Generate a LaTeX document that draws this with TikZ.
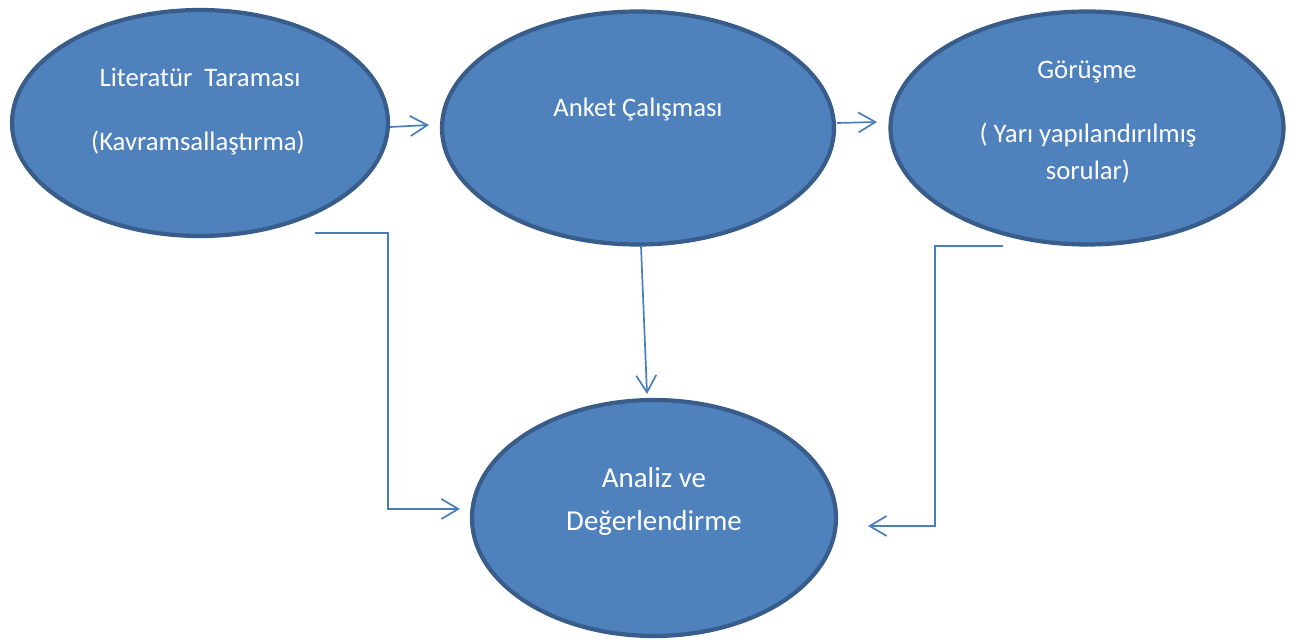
\documentclass[tikz,border=0pt]{standalone}
\usepackage{fontspec}
\setmainfont{Carlito}
\usetikzlibrary{shapes.geometric,arrows.meta}
\definecolor{blobfill}{HTML}{4F81BD}
\definecolor{blobedge}{HTML}{385D8A}
\definecolor{linkblue}{HTML}{4A7EBB}
\tikzset{
  blob/.style={ellipse, draw=blobedge, fill=blobfill, line width=4.2pt, inner sep=0pt},
  lbl/.style={text=white, font=\fontsize{26.7}{30}\selectfont, anchor=base, inner sep=0pt},
  biglbl/.style={lbl, font=\fontsize{28.9}{32}\selectfont},
  link/.style={draw=linkblue, line width=1.7pt,
    -{Straight Barb[length=17pt, width=20pt, line width=1.7pt]}}
}
\begin{document}
\begin{tikzpicture}[x=1pt, y=-1pt]
  \useasboundingbox (0,0) rectangle (1299,644);
  % the four stages
  \node[blob, minimum width=376pt, minimum height=226pt] (lit) at (200,123) {};
  \node[blob, minimum width=392pt, minimum height=233pt] (survey) at (638,128) {};
  \node[blob, minimum width=393pt, minimum height=233pt] (interview) at (1087,128) {};
  \node[blob, minimum width=364pt, minimum height=236pt] (analysis) at (654,518) {};
  % labels
  \node[lbl] (litA) at (200,87) {Literatür\ \ Taraması};
  \node[lbl] (litB) at (198,151) {(Kavramsallaştırma)};
  \node[lbl] (surveyA) at (638,117) {Anket Çalışması};
  \node[lbl] (intA) at (1087,79) {Görüşme};
  \node[lbl] (intB) at (1088,143) {( Yarı yapılandırılmış};
  \node[lbl] (intC) at (1088,180) {sorular)};
  \node[biglbl] (anA) at (654,487) {Analiz ve};
  \node[biglbl] (anB) at (654,530) {Değerlendirme};
  % connector end points
  \coordinate (t1) at (429,125);
  \coordinate (s2) at (837,123);
  \coordinate (t2) at (877,122);
  \coordinate (s3) at (641,246);
  \coordinate (t3) at (647,394);
  \coordinate (s4) at (315,233);
  \coordinate (t4) at (460,509);
  \coordinate (s5) at (1003,246);
  \coordinate (t5) at (868,526);
  % connectors
  \draw[link] ([yshift=-4pt]lit.east) -- (t1);
  \draw[link] (s2) -- (t2);
  \draw[link] (s3) -- (t3);
  \draw[link] (s4) -- (388,233) -- (388,509) -- (t4);
  \draw[link] (s5) -- (935,246) -- (935,526) -- (t5);
\end{tikzpicture}
\end{document}
